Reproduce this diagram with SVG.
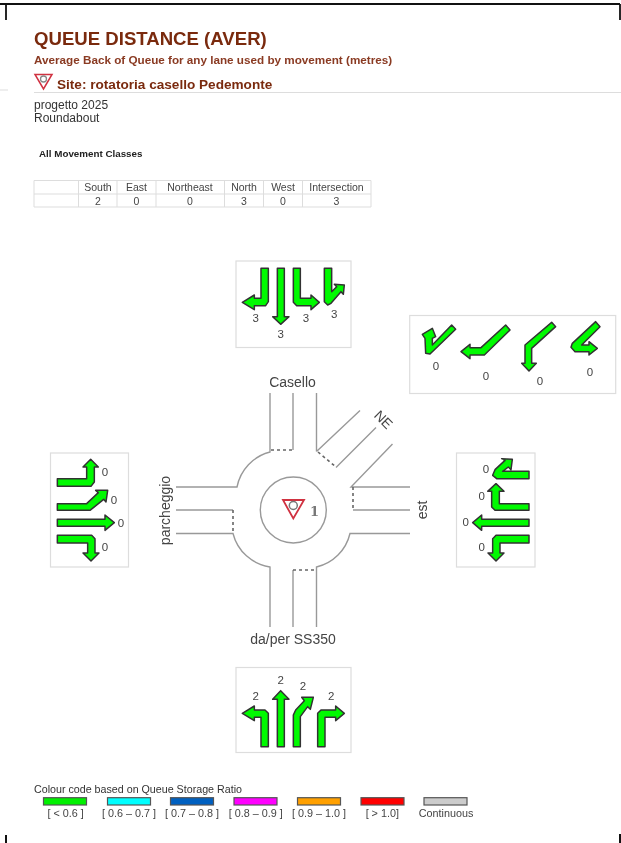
<svg xmlns="http://www.w3.org/2000/svg" width="621" height="843" viewBox="0 0 621 843">
<style>
text{font-family:"Liberation Sans",Arial,sans-serif;fill:#333}
.t{font-weight:bold;fill:#7a2a10}
.c{font-size:10.5px;text-anchor:middle;fill:#444}
.n{font-size:11.5px;text-anchor:middle;fill:#444}
.lg{font-size:10.8px;text-anchor:middle;fill:#444}
.panel{fill:#fff;stroke:#ddd;stroke-width:1.2}
.ar{fill:#00fa00;stroke:#333;stroke-width:4.5;stroke-linejoin:round}
.road{fill:none;stroke:#999;stroke-width:1.4}
.dot{fill:none;stroke:#666;stroke-width:1.6;stroke-dasharray:3 3}
.grid{fill:none;stroke:#ddd;stroke-width:1}
.lr{stroke:#555;stroke-width:1.2}
.lbl{font-size:14px;fill:#444}
</style>
<defs><filter id="soft" x="0" y="0" width="100%" height="100%" filterUnits="userSpaceOnUse"><feGaussianBlur stdDeviation="0.4"/></filter></defs>
<rect width="621" height="843" fill="#fff"/>
<g id="frame" fill="none" stroke="#111">
<path d="M0 4H620" stroke-width="2"/>
<path d="M6 4V20M620 4V20" stroke-width="1.8"/>
<path d="M6 835V843M620 834V843" stroke-width="2"/>
</g>
<g id="diagram" filter="url(#soft)">
<g id="header">
<text class="t" x="34" y="45" font-size="18.6">QUEUE DISTANCE (AVER)</text>
<text class="t" x="34" y="64" font-size="11.7" style="fill:#8a3a22">Average Back of Queue for any lane used by movement (metres)</text>
<text class="t" x="57" y="89" font-size="13.6">Site: rotatoria casello Pedemonte</text>
<path d="M35 74.500H52L43.500 89Z" fill="#fff" stroke="#d03040" stroke-width="1.5"/>
<circle cx="43.500" cy="79" r="3" fill="#fff" stroke="#888" stroke-width="1.3"/>
<path d="M34 92.500H621M0 90H8" stroke="#ddd" stroke-width="1.2" fill="none"/>
<text x="34" y="109" font-size="12">progetto 2025</text>
<text x="34" y="122" font-size="12">Roundabout</text>
<text x="39" y="157" font-size="9.8" font-weight="bold" style="fill:#222">All Movement Classes</text>
</g>
<g id="table">
<path class="grid" d="M34 180.500H371M34 194H371M34 207H371M34 180.500V207M78.500 180.500V207M117 180.500V207M156 180.500V207M224.500 180.500V207M263.500 180.500V207M302.500 180.500V207M371 180.500V207"/>
<text class="c" x="98" y="191">South</text><text class="c" x="136.500" y="191">East</text><text class="c" x="190" y="191">Northeast</text><text class="c" x="244" y="191">North</text><text class="c" x="283" y="191">West</text><text class="c" x="336.500" y="191">Intersection</text>
<text class="c" x="98" y="204.500">2</text><text class="c" x="136.500" y="204.500">0</text><text class="c" x="190" y="204.500">0</text><text class="c" x="244" y="204.500">3</text><text class="c" x="283" y="204.500">0</text><text class="c" x="336.500" y="204.500">3</text>
</g>
<g id="connectors">
<path class="road" d="M270 393V452A45 45 0 0 0 237 487H176M176 510H233M176 533.500H233A45 45 0 0 0 270 567V627M293 627V570M316.500 627V567A45 45 0 0 0 350 533.500H410M410 510H353M410 487H351L392.500 444M336 467.500L376 427.500M316.500 451.500L360 410.500M316.500 393V451.500M293 393V450"/>
<path class="dot" d="M271 450H293M233 510V533M293 570H316M353 487V510M318 452L336 467"/>
</g>
<g id="roundabout">
<circle cx="293.300" cy="510" r="33" fill="#fff" stroke="#999" stroke-width="1.4"/>
<path d="M283 500H304L293.300 518.500Z" fill="#fff" stroke="#d03040" stroke-width="1.8"/>
<circle cx="293.300" cy="505.500" r="4" fill="#fff" stroke="#777" stroke-width="1.5"/>
<text x="310" y="515.500" font-size="13" font-weight="bold" style="font-family:'DejaVu Serif','Liberation Serif',serif;fill:#777">1</text>
</g>
<g id="labels">
<text class="lbl" x="292.500" y="387" text-anchor="middle">Casello</text>
<text class="lbl" x="293" y="644" text-anchor="middle">da/per SS350</text>
<text class="lbl" text-anchor="middle" transform="translate(170 510.500) rotate(-90)">parcheggio</text>
<text class="lbl" text-anchor="middle" transform="translate(427 510) rotate(-90)">est</text>
<text class="lbl" text-anchor="middle" transform="translate(380 423) rotate(45)">NE</text>
</g>
<g id="panel-north">
<rect class="panel" x="236" y="261" width="115" height="86.500"/>
<g transform="translate(225 255) scale(.33333)">
<polygon class="ar" points="108,40 130,40 130,140 122,152 88,152 88,164 52,142 88,120 88,130 108,130"/>
<polygon class="ar" points="157,40 178,40 178,185 192,185 167,208 143,185 157,185"/>
<polygon class="ar" points="205,40 226,40 226,130 258,130 258,120 283,142 258,164 258,152 215,152 205,142"/>
<polygon class="ar" points="298,40 320,40 320,110 335,95 328,88 358,90 355,118 348,110 318,145 308,150 298,140"/>
</g>
<text class="n" x="255.700" y="322">3</text><text class="n" x="280.700" y="338">3</text><text class="n" x="306" y="322">3</text><text class="n" x="334.300" y="317.500">3</text>
</g>
<g id="panel-northeast">
<rect class="panel" x="409.700" y="315.500" width="206" height="78"/>
<g transform="translate(405 310) scale(.33333)">
<polygon class="ar" points="140,45 152,58 75,132 62,130 60,85 52,73 82,55 92,80 82,85 82,105"/>
<polygon class="ar" points="302,45 315,60 238,135 195,135 195,146 168,125 195,103 195,113 228,113"/>
<polygon class="ar" points="440,37 452,50 380,115 380,160 394,160 372,183 350,160 360,160 360,105"/>
<polygon class="ar" points="572,35 585,50 530,105 552,105 552,95 577,115 552,135 552,125 510,125 498,112 502,100"/>
</g>
<text class="n" x="436" y="370">0</text><text class="n" x="486" y="379.500">0</text><text class="n" x="540" y="385">0</text><text class="n" x="590" y="375.500">0</text>
</g>
<g id="panel-west">
<rect class="panel" x="50.500" y="453" width="78" height="114"/>
<g transform="translate(45 447) scale(.33333)">
<polygon class="ar" points="37,95 125,95 125,60 114,60 137,37 160,60 148,60 148,105 138,118 37,118"/>
<polygon class="ar" points="37,170 125,170 160,137 152,130 188,130 183,165 176,157 135,190 37,190"/>
<polygon class="ar" points="37,217 180,217 180,204 208,227 180,250 180,238 37,238"/>
<polygon class="ar" points="37,265 140,265 150,275 150,318 162,318 138,342 114,318 128,318 128,288 37,288"/>
</g>
<text class="n" x="105" y="476">0</text><text class="n" x="114" y="504">0</text><text class="n" x="121" y="527">0</text><text class="n" x="105" y="551">0</text>
</g>
<g id="panel-east">
<rect class="panel" x="456.500" y="453" width="78.500" height="114"/>
<g transform="translate(450 447) scale(.33333)">
<polygon class="ar" points="237,73 237,95 140,95 128,85 135,68 165,40 155,35 187,37 183,68 175,60 158,73"/>
<polygon class="ar" points="237,170 237,190 135,190 125,180 125,133 113,133 138,110 162,133 148,133 148,170"/>
<polygon class="ar" points="237,217 237,238 95,238 95,250 68,227 95,204 95,217"/>
<polygon class="ar" points="237,265 237,288 150,288 150,318 162,318 138,342 114,318 128,318 128,275 138,265"/>
</g>
<text class="n" x="486" y="473">0</text><text class="n" x="481.700" y="500.300">0</text><text class="n" x="465.700" y="526">0</text><text class="n" x="481.700" y="551">0</text>
</g>
<g id="panel-south">
<rect class="panel" x="236" y="667.500" width="115" height="85"/>
<g transform="translate(225 660) scale(.33333)">
<polygon class="ar" points="108,260 130,260 130,160 120,150 88,150 88,138 52,160 88,182 88,172 108,172"/>
<polygon class="ar" points="157,260 178,260 178,118 192,118 167,92 143,118 157,118"/>
<polygon class="ar" points="205,260 226,260 226,170 248,140 256,148 265,112 230,112 238,122 212,150 205,165"/>
<polygon class="ar" points="278,260 300,260 300,172 332,172 332,182 358,160 332,138 332,150 288,150 278,160"/>
</g>
<text class="n" x="255.700" y="700">2</text><text class="n" x="280.700" y="684">2</text><text class="n" x="303" y="690">2</text><text class="n" x="331.300" y="700">2</text>
</g>
<g id="legend">
<text x="34" y="793" font-size="10.7">Colour code based on Queue Storage Ratio</text>
<rect class="lr" x="43.500" y="797.700" width="43" height="7.300" fill="#00f000"/>
<rect class="lr" x="107.500" y="797.700" width="43" height="7.300" fill="#00ffff"/>
<rect class="lr" x="170.500" y="797.700" width="43" height="7.300" fill="#0060c0"/>
<rect class="lr" x="234" y="797.700" width="43" height="7.300" fill="#ff00ff"/>
<rect class="lr" x="297.500" y="797.700" width="43" height="7.300" fill="#ffa000"/>
<rect class="lr" x="361" y="797.700" width="43" height="7.300" fill="#ff0000"/>
<rect class="lr" x="424" y="797.700" width="43" height="7.300" fill="#cccccc"/>
<text class="lg" x="65.700" y="817">[ &lt; 0.6 ]</text>
<text class="lg" x="129" y="817">[ 0.6 – 0.7 ]</text>
<text class="lg" x="192" y="817">[ 0.7 – 0.8 ]</text>
<text class="lg" x="255.700" y="817">[ 0.8 – 0.9 ]</text>
<text class="lg" x="319" y="817">[ 0.9 – 1.0 ]</text>
<text class="lg" x="382.300" y="817">[ &gt; 1.0]</text>
<text class="lg" x="446" y="817">Continuous</text>
</g>
</g>
</svg>
